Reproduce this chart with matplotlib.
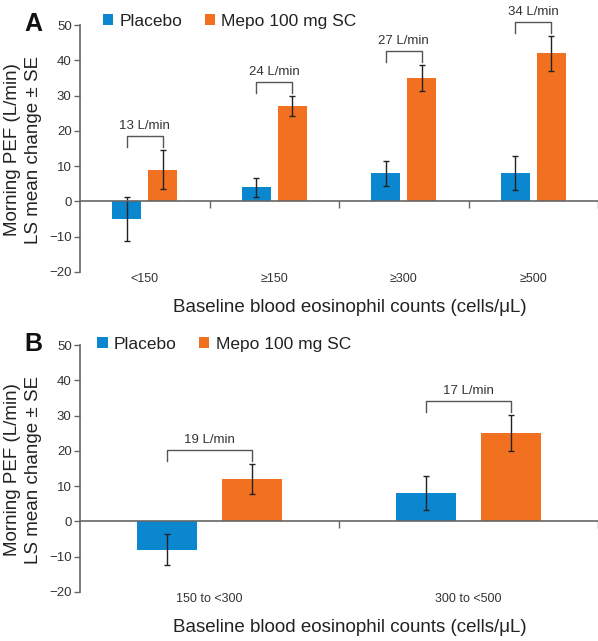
import matplotlib
matplotlib.use("Agg")
import matplotlib.pyplot as plt
from matplotlib.patches import Patch
import matplotlib.transforms as mtransforms
import numpy as np

plt.rcParams['font.family'] = ['Liberation Sans', 'DejaVu Sans']

# ---- data ----
series_names = ["Placebo", "Mepo 100 mg SC"]
colors = ["#0A87CE", "#F27121"]

cats_a = ["<150", "\u2265150", "\u2265300", "\u2265500"]
placebo_a = [-5, 4, 8, 8]
placebo_a_se = [6.2, 2.7, 3.5, 4.8]
mepo_a = [9, 27, 35, 42]
mepo_a_se = [5.5, 2.8, 3.6, 4.9]
diff_a = ["13 L/min", "24 L/min", "27 L/min", "34 L/min"]

cats_b = ["150 to <300", "300 to <500"]
placebo_b = [-8, 8]
placebo_b_se = [4.3, 4.9]
mepo_b = [12, 25]
mepo_b_se = [4.3, 5.1]
diff_b = ["19 L/min", "17 L/min"]

yticks = [-20, -10, 0, 10, 20, 30, 40, 50]
xlabel = "Baseline blood eosinophil counts (cells/\u03bcL)"
ylabel = "Morning PEF (L/min)\nLS mean change \u00b1 SE"

W, H = 598, 641
fig = plt.figure(figsize=(W / 100, H / 100), dpi=100)

axis_col = "#666666"
text_col = "#333333"


def panel(top_px, bottom_px, cats, pv, pse, mv, mse, diffs, bw, off, letter,
          leg_x, leg_y, col_sp):
    left_px, right_px = 80, 598
    ax = fig.add_axes([left_px / W, 1 - bottom_px / H,
                       (right_px - left_px) / W, (bottom_px - top_px) / H])
    n = len(cats)
    x = np.arange(n) + 0.5
    ekw = dict(ecolor="#222222", elinewidth=1.0, capsize=2, capthick=1.0)
    ax.bar(x - off, pv, bw, color=colors[0], yerr=pse, error_kw=ekw, zorder=2)
    ax.bar(x + off, mv, bw, color=colors[1], yerr=mse, error_kw=ekw, zorder=2)
    ax.set_xlim(0, n)
    ax.set_ylim(-20, 50)
    ax.set_yticks(yticks)
    ax.set_yticklabels([("\u2212%d" % -t) if t < 0 else str(t) for t in yticks])
    ax.tick_params(axis='y', direction='out', length=4, width=1, color=axis_col,
                   labelsize=9.5, labelcolor=text_col, pad=2)
    ax.set_xticks(np.arange(1, n + 1))
    ax.set_xticklabels([])
    ax.tick_params(axis='x', direction='out', length=5, width=1, color=axis_col)
    for s in ['top', 'right']:
        ax.spines[s].set_visible(False)
    ax.spines['bottom'].set_position(('data', 0))
    ax.spines['bottom'].set_color(axis_col)
    ax.spines['left'].set_color(axis_col)
    ax.spines['bottom'].set_linewidth(1.2)
    ax.spines['left'].set_linewidth(1.2)
    trans = mtransforms.blended_transform_factory(ax.transData, ax.transAxes)
    for xi, c in zip(x, cats):
        ax.text(xi, -0.03, c, transform=trans, ha='center', va='center',
                fontsize=9, color=text_col)
    # brackets
    for xi, m, e, d in zip(x, mv, mse, diffs):
        top = m + e + 4
        ax.plot([xi - off, xi - off, xi + off, xi + off],
                [top - 3.2, top, top, top - 3.2], color="#555555", lw=1.0,
                clip_on=False, zorder=3)
        ax.text(xi, top + 1.2, d, ha='center', va='bottom', fontsize=9.5,
                color=text_col, clip_on=False)
    handles = [Patch(facecolor=colors[0]), Patch(facecolor=colors[1])]
    ax.legend(handles, series_names, loc='center left',
              bbox_to_anchor=(leg_x, leg_y), ncol=2, frameon=False,
              borderaxespad=0, borderpad=0, handlelength=0.6, handleheight=0.6,
              handletextpad=0.35, columnspacing=col_sp, fontsize=12.5,
              labelcolor="#222222")
    fig.text(33 / W, 1 - (top_px - 1) / H, letter, fontsize=18, fontweight='bold',
             ha='center', va='center', color="#111111")
    fig.text(23 / W, 1 - ((top_px + bottom_px) / 2 + 1) / H, ylabel,
             rotation=90, ha='center', va='center', fontsize=13.5,
             linespacing=1.25, multialignment='center', color="#222222")
    fig.text(350 / W, 1 - (bottom_px + 36) / H, xlabel, ha='center',
             va='center', fontsize=13.5, color="#222222")
    return ax


panel(25, 272, cats_a, placebo_a, placebo_a_se, mepo_a, mepo_a_se, diff_a,
      0.224, 0.139, "A", 0.044, 1.016, 1.3)
panel(345, 592, cats_b, placebo_b, placebo_b_se, mepo_b, mepo_b_se, diff_b,
      0.235, 0.164, "B", 0.033, 1.004, 1.3)

fig.savefig("out.png", dpi=100)
